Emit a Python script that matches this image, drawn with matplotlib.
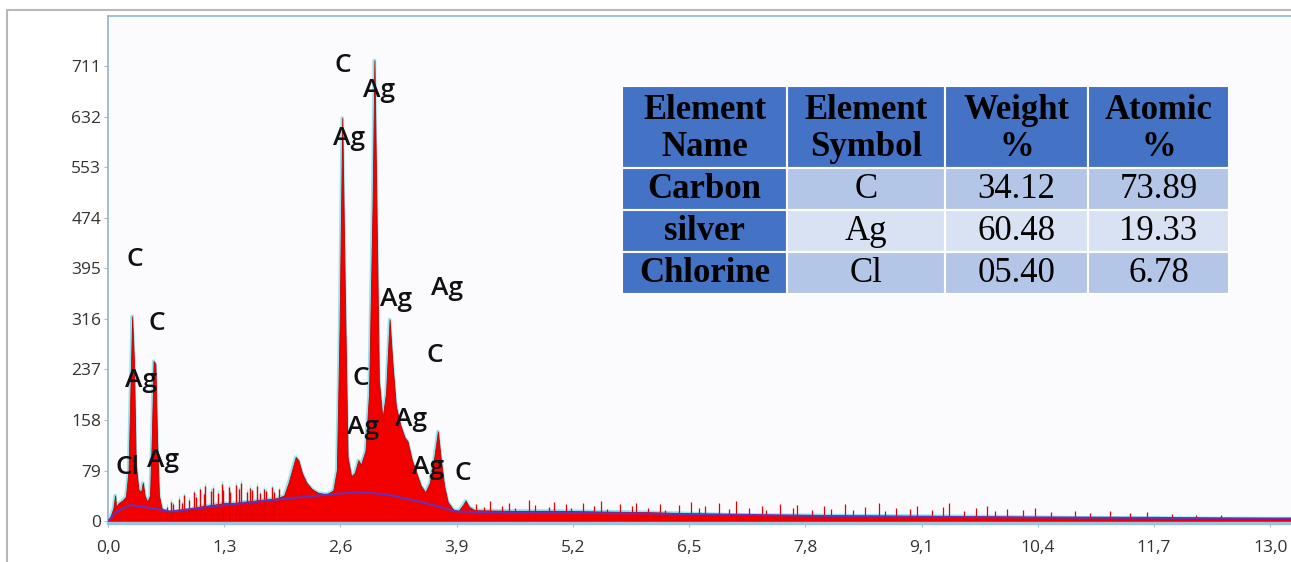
import matplotlib.pyplot as plt
from matplotlib.patches import Rectangle

# spectrum (keV, counts)
energy = [0.00, 0.03, 0.06, 0.08, 0.09, 0.12, 0.16, 0.20, 0.23, 0.25, 0.27, 0.29,
          0.31, 0.34, 0.37, 0.39, 0.41, 0.44, 0.47, 0.49, 0.51, 0.53, 0.55, 0.57,
          0.60, 0.65, 0.70, 0.80, 0.90, 1.00, 1.10, 1.20, 1.30, 1.40, 1.50, 1.60,
          1.70, 1.80, 1.90, 1.97, 2.02, 2.06, 2.10, 2.13, 2.17, 2.22, 2.28, 2.35,
          2.45, 2.52, 2.56, 2.59, 2.62, 2.65, 2.68, 2.72, 2.76, 2.80, 2.83, 2.88,
          2.92, 2.96, 2.98, 3.00, 3.03, 3.07, 3.11, 3.15, 3.18, 3.22, 3.27, 3.32,
          3.35, 3.40, 3.45, 3.50, 3.55, 3.60, 3.65, 3.69, 3.72, 3.76, 3.80, 3.86,
          3.92, 3.97, 4.00, 4.04, 4.10, 4.5, 5.0, 5.5, 6.0, 6.5, 7.0, 8.0, 9.0,
          10.0, 10.5, 11.0, 11.7, 12.5, 13.0, 13.3]
counts = [0, 8, 20, 40, 22, 28, 32, 38, 80, 200, 320, 250,
          90, 50, 45, 60, 40, 30, 40, 130, 250, 245, 120, 40,
          20, 15, 14, 16, 18, 22, 24, 26, 28, 28, 30, 31,
          33, 34, 36, 40, 60, 80, 100, 95, 75, 60, 50, 44,
          42, 48, 80, 300, 630, 350, 100, 70, 75, 95, 88, 110,
          200, 500, 720, 520, 220, 160, 200, 315, 250, 180, 150, 130,
          125, 95, 75, 55, 45, 60, 100, 140, 100, 55, 30, 18,
          16, 25, 32, 22, 17, 16, 16, 15, 14, 12, 10, 9, 8,
          7, 6, 5, 5, 4, 4, 4]

# background fit (purple line)
bg_energy = [0.0, 0.1, 0.25, 0.5, 0.7, 1.0, 1.5, 2.0, 2.5, 2.8, 3.1, 3.5, 3.9,
             4.5, 6.0, 8.0, 10.0, 11.7, 13.0, 13.3]
bg_counts = [0, 15, 25, 20, 15, 20, 28, 35, 42, 45, 42, 30, 15,
             13, 12, 8, 6, 5, 4, 4]

# noise spikes on the low-energy background
noise_e1 = [0.66, 0.71, 0.73, 0.79, 0.83, 0.85, 0.91, 0.96, 0.98, 1.03, 1.07,
            1.09, 1.15, 1.17, 1.23, 1.27, 1.29, 1.35, 1.37, 1.43, 1.47, 1.49,
            1.55, 1.59, 1.61, 1.67, 1.70, 1.75, 1.77, 1.83, 1.86, 1.91]
noise_h1 = [22, 30, 26, 35, 28, 40, 33, 45, 38, 50, 42,
            55, 47, 52, 44, 58, 48, 53, 45, 57, 50, 60,
            46, 52, 48, 55, 44, 50, 47, 53, 46, 50]
# noise spikes on the high-energy tail
noise_e2 = [4.12, 4.21, 4.27, 4.41, 4.48, 4.55, 4.71, 4.78, 4.93, 4.99, 5.12,
            5.18, 5.31, 5.44, 5.52, 5.58, 5.73, 5.86, 5.91, 6.04, 6.18, 6.23,
            6.39, 6.52, 6.61, 6.68, 6.83, 6.95, 7.02, 7.17, 7.31, 7.36, 7.52,
            7.66, 7.71, 7.88, 8.01, 8.09, 8.24, 8.33, 8.47, 8.62, 8.69, 8.81,
            8.97, 9.05, 9.22, 9.34, 9.41, 9.58, 9.71, 9.83, 9.92, 10.06, 10.24,
            10.37, 10.55, 10.82, 10.98, 11.21, 11.43, 11.62, 11.9, 12.17, 12.45]
noise_h2 = [27, 22, 31, 24, 29, 21, 33, 25, 22, 30, 26,
            20, 28, 23, 31, 19, 26, 24, 29, 21, 27, 18,
            25, 30, 20, 23, 28, 19, 32, 21, 24, 17, 27,
            20, 25, 18, 23, 19, 26, 17, 22, 28, 16, 21,
            19, 24, 17, 22, 29, 16, 20, 23, 15, 19, 17,
            21, 14, 16, 13, 15, 12, 14, 11, 10, 9]

# peak labels (text, keV, counts)
peak_labels = ['C', 'C', 'Ag', 'Cl', 'Ag', 'C', 'Ag', 'Ag', 'Ag', 'Ag', 'C', 'C',
               'Ag', 'Ag', 'Ag', 'C']
label_e = [0.30, 0.55, 0.37, 0.22, 0.62, 2.63, 3.03, 2.70, 3.22, 3.79, 3.66, 2.83,
           2.85, 3.39, 3.58, 3.97]
label_c = [409, 308, 219, 83, 95, 712, 673, 598, 347, 364, 259, 223,
           147, 158, 83, 75]

yticks = [0, 79, 158, 237, 316, 395, 474, 553, 632, 711]
xticks = [0.0, 1.3, 2.6, 3.9, 5.2, 6.5, 7.8, 9.1, 10.4, 11.7, 13.0]

# composition table
table_header = ['Element\nName', 'Element\nSymbol', 'Weight\n%', 'Atomic\n%']
element_names = ['Carbon', 'silver', 'Chlorine']
element_symbols = ['C', 'Ag', 'Cl']
weight_pct = ['34.12', '60.48', '05.40']
atomic_pct = ['73.89', '19.33', '6.78']

W, H = 1291, 562
fig = plt.figure(figsize=(W / 100, H / 100), dpi=100)

ax = fig.add_axes([108 / W, 39 / H, 1189 / W, 507.5 / H])
ax.set_facecolor('#fbfbfd')
ax.plot(energy, counts, color='#8ee8f2', lw=2.5, zorder=1)
ax.vlines(noise_e1, 0, [h + 4 for h in noise_h1], color='#9beef5', lw=1.0, zorder=1)
ax.fill_between(energy, counts, color='#f20000', edgecolor='#c00000', lw=0.6, zorder=2)
ax.vlines(noise_e1, 0, noise_h1, color='#e80000', lw=1.0, zorder=2)
ax.vlines(noise_e2, 0, noise_h2, color='#e80000', lw=0.9, zorder=2)
ax.plot(bg_energy, bg_counts, color='#5b34c4', lw=1.4, zorder=3)

for t, e, c in zip(peak_labels, label_e, label_c):
    ax.text(e, c, t, fontsize=19, family='Open Sans', weight='semibold',
            ha='center', va='center', color='#111111', zorder=5)

ax.set_xlim(0, 13.3)
ax.set_ylim(-3, 790)
ax.set_xticks(xticks)
ax.set_xticklabels([f'{v:.1f}'.replace('.', ',') for v in xticks])
ax.set_yticks(yticks)
ax.tick_params(axis='both', labelsize=12.5, colors='#9cc3e0', labelcolor='#333333',
               length=3)
ax.tick_params(axis='x', pad=9)
ax.tick_params(axis='y', pad=2)
for lab in ax.get_xticklabels() + ax.get_yticklabels():
    lab.set_family('Open Sans')
for s in ['left', 'top', 'right']:
    ax.spines[s].set_color('#8fb4d0')
    ax.spines[s].set_linewidth(1.2)
ax.spines['bottom'].set_color('#9cc3e0')
ax.spines['bottom'].set_linewidth(2.5)

# overlay axes in pixel coordinates for frame and table
ov = fig.add_axes([0, 0, 1, 1], zorder=10)
ov.set_xlim(0, W)
ov.set_ylim(H, 0)
ov.axis('off')
ov.plot([7, 7, W], [H, 10, 10], color='#b8b8b8', lw=1.5)

col_x = [622, 787, 945, 1088, 1229]
row_y = [86, 168, 210, 252, 294]
dark = '#4472c4'
for j, txt in enumerate(table_header):
    ov.add_patch(Rectangle((col_x[j], row_y[0]), col_x[j + 1] - col_x[j],
                           row_y[1] - row_y[0], facecolor=dark, edgecolor='white', lw=1.5))
    ov.text((col_x[j] + col_x[j + 1]) / 2, (row_y[0] + row_y[1]) / 2 + 2, txt,
            ha='center', va='center', family='Liberation Serif', weight='bold',
            fontsize=25, linespacing=1.15)
rows = list(zip(element_names, element_symbols, weight_pct, atomic_pct))
for i, row in enumerate(rows):
    light = '#d9e2f3' if i == 1 else '#b4c6e7'
    for j, txt in enumerate(row):
        fc = dark if j == 0 else light
        ov.add_patch(Rectangle((col_x[j], row_y[i + 1]), col_x[j + 1] - col_x[j],
                               row_y[i + 2] - row_y[i + 1], facecolor=fc,
                               edgecolor='white', lw=1.5))
        ov.text((col_x[j] + col_x[j + 1]) / 2, (row_y[i + 1] + row_y[i + 2]) / 2 + 1, txt,
                ha='center', va='center', family='Liberation Serif',
                weight='bold' if j == 0 else 'normal', fontsize=25)

fig.savefig('out.png', dpi=100)
